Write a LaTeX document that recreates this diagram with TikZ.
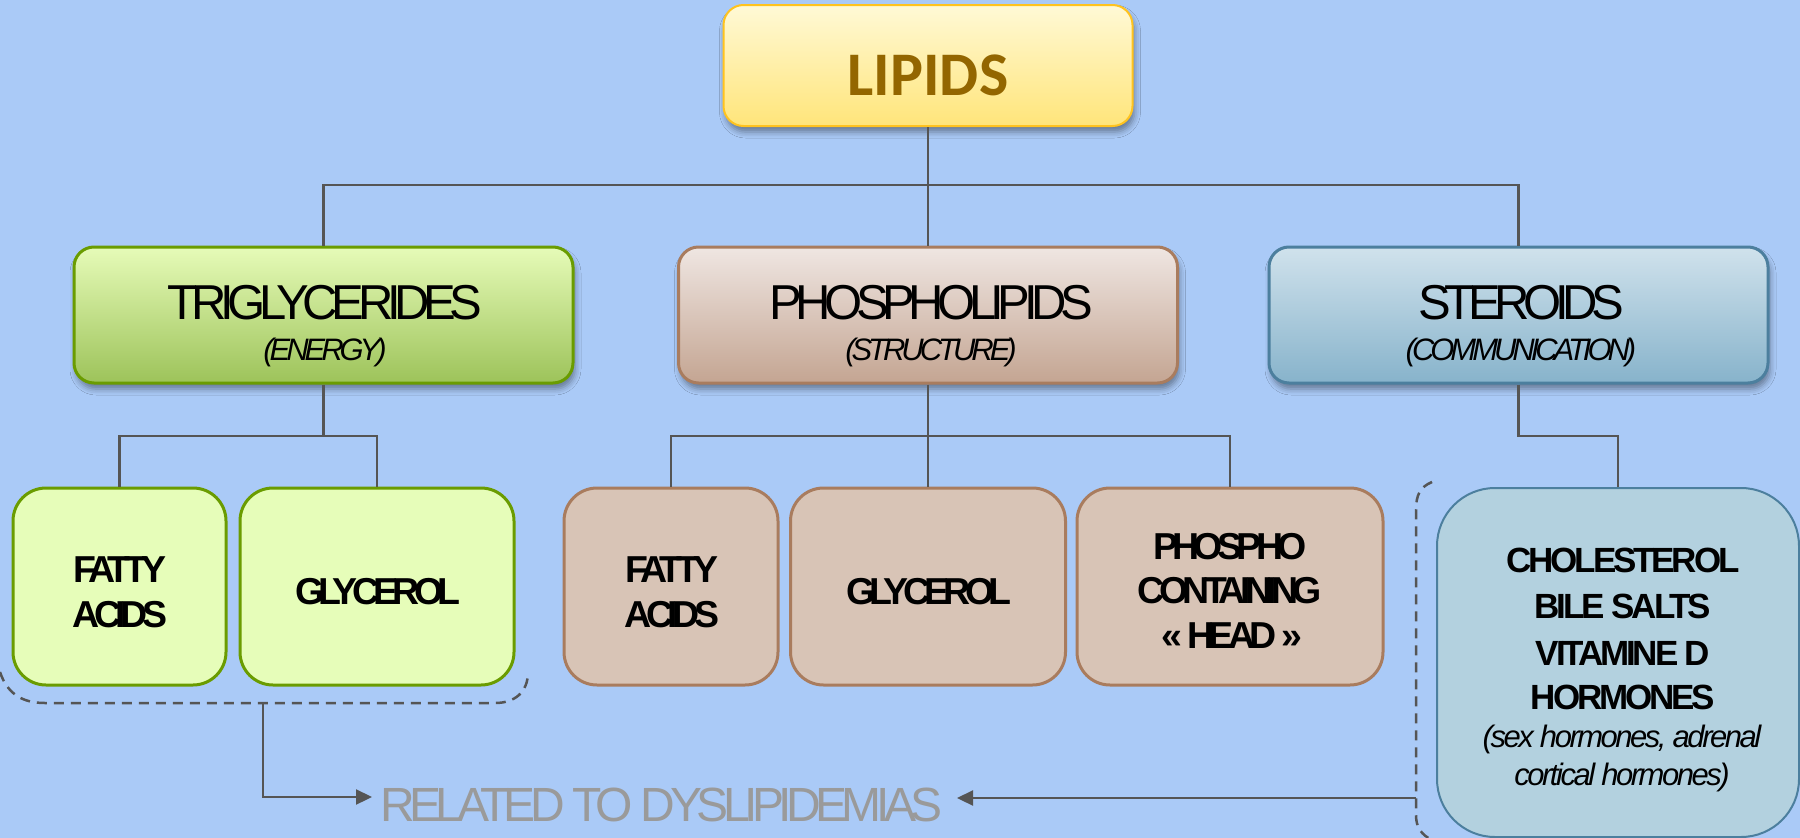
\documentclass[tikz,border=0pt]{standalone}
\usepackage{fontspec}
\usetikzlibrary{shadows,shadows.blur,arrows.meta}
\newfontfamily\ftitle[LetterSpace=-13]{Liberation Sans}
\newfontfamily\fbold[LetterSpace=-15]{Liberation Sans}
\newfontfamily\fch[LetterSpace=-9]{Liberation Sans}
\newfontfamily\fchi[LetterSpace=-8]{Liberation Sans}
\newfontfamily\frel[LetterSpace=-11.5]{Liberation Sans}
\newfontfamily\fcal{Carlito}
\definecolor{bgc}{RGB}{170,202,247}
\definecolor{lipA}{RGB}{255,249,214}
\definecolor{lipB}{RGB}{255,229,122}
\definecolor{lipD}{RGB}{255,195,31}
\definecolor{lipT}{RGB}{147,102,0}
\definecolor{tgA}{RGB}{230,251,184}
\definecolor{tgB}{RGB}{157,195,90}
\definecolor{tgD}{RGB}{106,156,0}
\definecolor{tgF}{RGB}{230,253,185}
\definecolor{plA}{RGB}{239,230,226}
\definecolor{plB}{RGB}{196,165,146}
\definecolor{plD}{RGB}{169,124,94}
\definecolor{plF}{RGB}{216,196,182}
\definecolor{stA}{RGB}{208,226,236}
\definecolor{stB}{RGB}{135,179,203}
\definecolor{stD}{RGB}{76,127,158}
\definecolor{stF}{RGB}{179,209,223}
\definecolor{lnc}{RGB}{85,85,85}
\definecolor{relc}{RGB}{154,154,154}
\begin{document}
\begin{tikzpicture}[x=1pt,y=-1pt,
  mainbox/.style={draw, line width=3pt, rounded corners=20pt, minimum width=499pt,
    minimum height=136pt, inner sep=0pt,
    blur shadow={shadow xshift=2pt, shadow yshift=-6pt, shadow blur radius=6pt}},
  subbox/.style={draw, line width=3pt, rounded corners=33pt, minimum height=197pt, inner sep=0pt},
  txt/.style={inner sep=0pt, anchor=base, text=black},
  conn/.style={draw=lnc, line width=2.3pt},
  dsh/.style={draw=lnc, line width=2.5pt, dash pattern=on 10pt off 7pt},
  arr/.style={conn, -{Triangle[length=16pt,width=15pt]}}]
\fill[bgc] (0,0) rectangle (1800,838);
\useasboundingbox (0,0) rectangle (1800,838);

% top level
\node[mainbox, draw=lipD, line width=2pt, top color=lipA, bottom color=lipB,
  minimum width=409pt, minimum height=121pt] (lip) at (928,65.5) {};
\node[txt, text=lipT] (liptx) at (928,95) {\fcal\bfseries\fontsize{62}{62}\selectfont LIPIDS};

% second level
\node[mainbox, draw=tgD, top color=tgA, bottom color=tgB] (tg) at (323.5,315) {};
\node[mainbox, draw=plD, top color=plA, bottom color=plB] (pl) at (928,315) {};
\node[mainbox, draw=stD, top color=stA, bottom color=stB] (st) at (1518.5,315) {};
\node[txt] (tgt) at (325,319) {\ftitle\fontsize{49}{49}\selectfont TRIGLYCERIDES};
\node[txt] (tgs) at (325,360) {\ftitle\itshape\fontsize{31}{31}\selectfont (ENERGY)};
\node[txt] (plt) at (931,319) {\ftitle\fontsize{49}{49}\selectfont PHOSPHOLIPIDS};
\node[txt] (pls) at (931,360) {\ftitle\itshape\fontsize{31}{31}\selectfont (STRUCTURE)};
\node[txt] (stt) at (1521,319) {\ftitle\fontsize{49}{49}\selectfont STEROIDS};
\node[txt] (sts) at (1521,360) {\ftitle\itshape\fontsize{31}{31}\selectfont (COMMUNICATION)};

% third level
\node[subbox, draw=tgD, fill=tgF, minimum width=213pt] (fa1) at (119.5,586.5) {};
\node[subbox, draw=tgD, fill=tgF, minimum width=274pt] (gl1) at (377,586.5) {};
\node[subbox, draw=plD, fill=plF, minimum width=214pt] (fa2) at (671,586.5) {};
\node[subbox, draw=plD, fill=plF, minimum width=275pt] (gl2) at (928,586.5) {};
\node[subbox, draw=plD, fill=plF, minimum width=306pt] (ph) at (1230,586.5) {};
\node[subbox, draw=stD, fill=stF, line width=2pt, rounded corners=58pt,
  minimum width=362pt, minimum height=349pt] (ch) at (1618,662.5) {};

\node[txt] (fa1a) at (120,582) {\fbold\bfseries\fontsize{37.5}{37.5}\selectfont FATTY};
\node[txt] (fa1b) at (120,627) {\fbold\bfseries\fontsize{37.5}{37.5}\selectfont ACIDS};
\node[txt] (gl1t) at (378,604) {\fbold\bfseries\fontsize{37.5}{37.5}\selectfont GLYCEROL};
\node[txt] (fa2a) at (672,582) {\fbold\bfseries\fontsize{37.5}{37.5}\selectfont FATTY};
\node[txt] (fa2b) at (672,627) {\fbold\bfseries\fontsize{37.5}{37.5}\selectfont ACIDS};
\node[txt] (gl2t) at (929,604) {\fbold\bfseries\fontsize{37.5}{37.5}\selectfont GLYCEROL};
\node[txt] (pha) at (1230,559) {\fbold\bfseries\fontsize{37.5}{37.5}\selectfont PHOSPHO};
\node[txt] (phb) at (1230,603) {\fbold\bfseries\fontsize{37.5}{37.5}\selectfont CONTAINING};
\node[txt] (phc) at (1232,648) {\fbold\bfseries\fontsize{37.5}{37.5}\selectfont « HEAD »};

\node[txt] (ch1) at (1623,572) {\fch\bfseries\fontsize{35}{35}\selectfont CHOLESTEROL};
\node[txt] (ch2) at (1623,618) {\fch\bfseries\fontsize{35}{35}\selectfont BILE SALTS};
\node[txt] (ch3) at (1623,665) {\fch\bfseries\fontsize{35}{35}\selectfont VITAMINE D};
\node[txt] (ch4) at (1623,709) {\fch\bfseries\fontsize{35}{35}\selectfont HORMONES};
\node[txt] (ch5) at (1622,747) {\fchi\itshape\fontsize{31}{31}\selectfont (sex hormones, adrenal};
\node[txt] (ch6) at (1622,785) {\fchi\itshape\fontsize{31}{31}\selectfont cortical hormones)};

% connectors
\coordinate (b1) at (928,185);
\draw[conn] (lip.south) -- (pl.north);
\draw[conn] (tg.north) |- (b1) -| (st.north);
\coordinate (b2) at (323.5,436);
\draw[conn] (tg.south) -- (b2);
\draw[conn] (fa1.north) |- (b2) -| (gl1.north);
\coordinate (b3) at (928,436);
\draw[conn] (pl.south) -- (b3);
\draw[conn, line width=1.2pt] (b3) -- (gl2.north);
\draw[conn] (fa2.north) |- (b3) -| (ph.north);
\coordinate (b4) at (1518.5,436);
\draw[conn] (st.south) -- (b4) -| (ch.north);

% dashed brackets
\draw[dsh] (0,672) .. controls (8,696) and (25,703) .. (45,703) -- (495,703)
  .. controls (515,703) and (528,692) .. (528,672);
\draw[dsh] (1432,482) .. controls (1420,487) and (1416,495) .. (1416,510) -- (1416,815)
  .. controls (1416,828) and (1422,835) .. (1432,840);

% result label and arrows
\node[txt, text=relc] (rel) at (661.5,821) {\frel\fontsize{48}{48}\selectfont RELATED TO DYSLIPIDEMIAS};
\coordinate (dl) at (263,703);
\coordinate (a1) at (372,797);
\coordinate (dr) at (1416,798);
\coordinate (a2) at (957,798);
\draw[arr] (dl) |- (a1);
\draw[arr] (dr) -- (a2);
\end{tikzpicture}
\end{document}
